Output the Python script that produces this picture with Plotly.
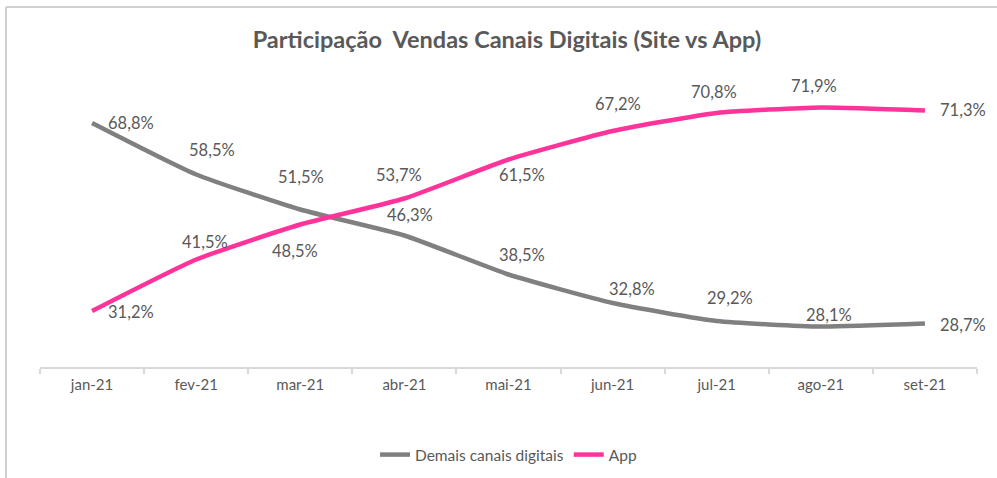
import plotly.graph_objects as go

categories = ["jan-21", "fev-21", "mar-21", "abr-21", "mai-21", "jun-21", "jul-21", "ago-21", "set-21"]
demais = [68.8, 58.5, 51.5, 46.3, 38.5, 32.8, 29.2, 28.1, 28.7]
app = [31.2, 41.5, 48.5, 53.7, 61.5, 67.2, 70.8, 71.9, 71.3]

# label offsets in pixels (dx right, dy down) relative to each point
demais_off = [(39, 0), (16, -25), (1, -33), (6, -21), (13, -20), (19, -14), (13, -23), (8, -12), (38, 1)]
app_off = [(39, 1), (9, -18), (-5, 26), (-5, -24), (13, 15), (5, -27), (-3, -21), (-7, -22), (38, -1)]

GRAY = "#808080"
PINK = "#FF3399"
TXT = "#595959"
FONT = "Lato"

fig = go.Figure()
fig.add_trace(go.Scatter(x=categories, y=demais, mode="lines", name="Demais canais digitais",
                         line=dict(color=GRAY, width=4.5, shape="spline", smoothing=0.5)))
fig.add_trace(go.Scatter(x=categories, y=app, mode="lines", name="App",
                         line=dict(color=PINK, width=4.5, shape="spline", smoothing=0.5)))

def fmt(v):
    return f"{v:.1f}".replace(".", ",") + "%"

annotations = []
for vals, offs in ((demais, demais_off), (app, app_off)):
    for c, v, (dx, dy) in zip(categories, vals, offs):
        annotations.append(dict(x=c, y=v, text=fmt(v), showarrow=False, xshift=dx, yshift=-dy,
                                font=dict(family=FONT, size=16.5, color=TXT),
                                xanchor="center", yanchor="middle"))

fig.update_layout(
    template="none",
    width=997, height=478,
    margin=dict(l=40, r=20, t=67, b=111, autoexpand=False),
    paper_bgcolor="white", plot_bgcolor="white",
    title=dict(text="<b>Participação  Vendas Canais Digitais (Site vs App)</b>",
               x=0.5085, xanchor="center", y=1 - 40 / 478, yanchor="middle",
               font=dict(family=FONT, size=23.5, color=TXT)),
    xaxis=dict(type="category", range=[-0.5, 8.5], showgrid=False, showline=True, zeroline=False,
               linecolor="#d9d9d9", linewidth=1.5, ticks="outside", tickson="boundaries",
               ticklen=5, tickcolor="#d9d9d9", tickwidth=1.5, automargin=False,
               ticklabelstandoff=3,
               tickfont=dict(family=FONT, size=15, color=TXT), fixedrange=True),
    yaxis=dict(range=[20, 80], visible=False, showgrid=False, zeroline=False, fixedrange=True,
               automargin=False),
    legend=dict(orientation="h", x=0.5, xanchor="center", yref="container", y=1 - 455 / 478,
                yanchor="middle", bgcolor="rgba(0,0,0,0)",
                font=dict(family=FONT, size=15.5, color=TXT), itemwidth=30, tracegroupgap=0),
    showlegend=True,
    hovermode=False,
    annotations=annotations,
    shapes=[
        dict(type="line", xref="paper", yref="paper", x0=-0.0363, x1=1.1, y0=1.2, y1=1.2,
             line=dict(color="#d0d0d0", width=2)),
        dict(type="line", xref="paper", yref="paper", x0=-0.0363, x1=-0.0363, y0=1.2, y1=-0.5,
             line=dict(color="#d0d0d0", width=2)),
    ],
)

fig.write_html("out.html", config={"displayModeBar": False},
               post_script="document.body.style.margin='0';document.body.style.overflow='hidden';")
